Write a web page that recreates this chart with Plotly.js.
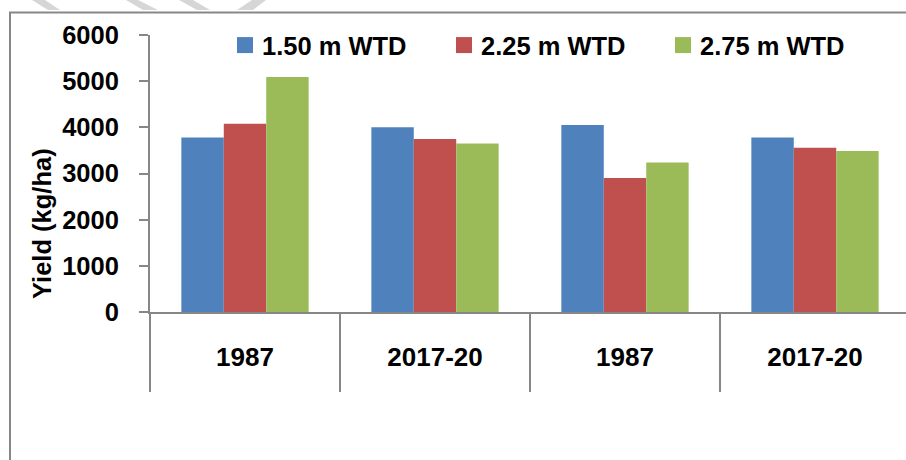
<!DOCTYPE html>
<html>
<head>
<meta charset="utf-8">
<script src="https://cdn.plot.ly/plotly-3.0.1.min.js"></script>
<style>
html,body{margin:0;padding:0;background:#fff;overflow:hidden;}
#chart{width:906px;height:460px;}
</style>
</head>
<body>
<div id="chart"></div>
<script>
// ---- data ----
var categories = ['1987', '2017-20', '1987', '2017-20'];
var seriesNames = ['1.50 m WTD', '2.25 m WTD', '2.75 m WTD'];
var wtd150 = [3780, 4000, 4050, 3780];
var wtd225 = [4080, 3750, 2900, 3560];
var wtd275 = [5090, 3650, 3240, 3490];
var yTicks = [0, 1000, 2000, 3000, 4000, 5000, 6000];
var yTitle = 'Yield (kg/ha)';

// ---- styling ----
var colors = ['#4f81bd', '#c0504d', '#9bbb59'];
var gray = '#878787';
var FONT = 'Liberation Sans, Arial, sans-serif';
var W = 906, H = 460, ML = 150, MR = 0, MT = 35, MB = 148;
var plotW = W - ML - MR, plotH = H - MT - MB;
function px(x) { return (x - ML) / plotW; }
function py(y) { return (H - MB - y) / plotH; }

var idx = categories.map(function (c, i) { return i; });
var boundaries = categories.map(function (c, i) { return i - 0.5; });
var xr = [-0.5, -0.5 + plotW / 190];

var allSeries = [wtd150, wtd225, wtd275];
var traces = allSeries.map(function (vals, k) {
  return {
    type: 'bar',
    name: seriesNames[k],
    x: idx,
    y: vals,
    marker: { color: colors[k], line: { width: 0 } },
    hoverinfo: 'y'
  };
});

// decorative stripes at top-left (cropped page artefact)
function stripe(pts) {
  var d = 'M' + pts.map(function (p) { return px(p[0]) + ',' + py(p[1]); }).join('L') + 'Z';
  return { type: 'path', xref: 'paper', yref: 'paper', path: d,
           fillcolor: '#d6d6d6', line: { width: 0 }, layer: 'below' };
}

var shapes = [
  stripe([[32, 0], [45, 0], [60, 10], [48, 10]]),
  stripe([[126, 0], [138, 0], [158, 10], [143, 10]]),
  stripe([[179, 0], [193, 0], [210, 10], [197, 10]]),
  stripe([[252, 0], [266, 0], [253, 10], [237, 10]]),
  { type: 'rect', xref: 'paper', yref: 'paper',
    x0: px(10), x1: px(W + 20), y0: py(H + 20), y1: py(12.5),
    line: { color: gray, width: 2 }, fillcolor: 'rgba(0,0,0,0)', layer: 'below' }
];

var layout = {
  width: W, height: H,
  margin: { l: ML, r: MR, t: MT, b: MB, pad: 0 },
  paper_bgcolor: '#fff', plot_bgcolor: '#fff',
  font: { family: FONT, size: 25.5, color: '#000', weight: 700 },
  barmode: 'group',
  bargap: 0.33,
  bargroupgap: 0,
  showlegend: true,
  legend: {
    orientation: 'h',
    x: px(222), xanchor: 'left',
    y: py(22), yanchor: 'top',
    entrywidth: 174, entrywidthmode: 'pixels',
    font: { family: FONT, size: 25.5, weight: 700, color: '#000' },
    bgcolor: 'rgba(0,0,0,0)', borderwidth: 0,
    traceorder: 'normal'
  },
  xaxis: {
    type: 'linear',
    range: xr,
    tickvals: idx,
    ticktext: categories,
    ticks: '',
    minor: {
      tickvals: boundaries,
      ticks: 'outside', ticklen: 78, tickwidth: 2, tickcolor: gray,
      showgrid: false
    },
    showline: true, linecolor: gray, linewidth: 2,
    showgrid: false, zeroline: false,
    tickfont: { family: FONT, size: 26, weight: 700, color: '#000' },
    ticklabelstandoff: 21,
    fixedrange: true
  },
  yaxis: {
    range: [0, 6000],
    tickvals: yTicks,
    ticks: 'outside', ticklen: 9, tickwidth: 2, tickcolor: gray,
    showline: true, linecolor: gray, linewidth: 2,
    showgrid: false, zeroline: false,
    tickfont: { family: FONT, size: 25.5, weight: 700, color: '#000' },
    ticklabelstandoff: 15,
    fixedrange: true
  },
  annotations: [{
    text: yTitle,
    xref: 'paper', yref: 'paper',
    x: px(42), y: py(224),
    xanchor: 'center', yanchor: 'middle',
    textangle: -90, showarrow: false,
    font: { family: FONT, size: 25.5, weight: 700, color: '#000' }
  }],
  shapes: shapes
};

// Excel-style larger square legend keys (16 px)
function squareKeys() {
  document.querySelectorAll('#chart .legendpoints path').forEach(function (p) {
    p.setAttribute('transform', 'translate(23,0)');
    p.setAttribute('d', 'M8,8H-8V-8H8Z');
    p.style.strokeWidth = '0px';
  });
}

var gd = document.getElementById('chart');
Plotly.newPlot(gd, traces, layout, { staticPlot: true, displayModeBar: false }).then(function () {
  squareKeys();
  setTimeout(squareKeys, 0);
});
gd.on && gd.on('plotly_afterplot', squareKeys);
</script>
</body>
</html>
